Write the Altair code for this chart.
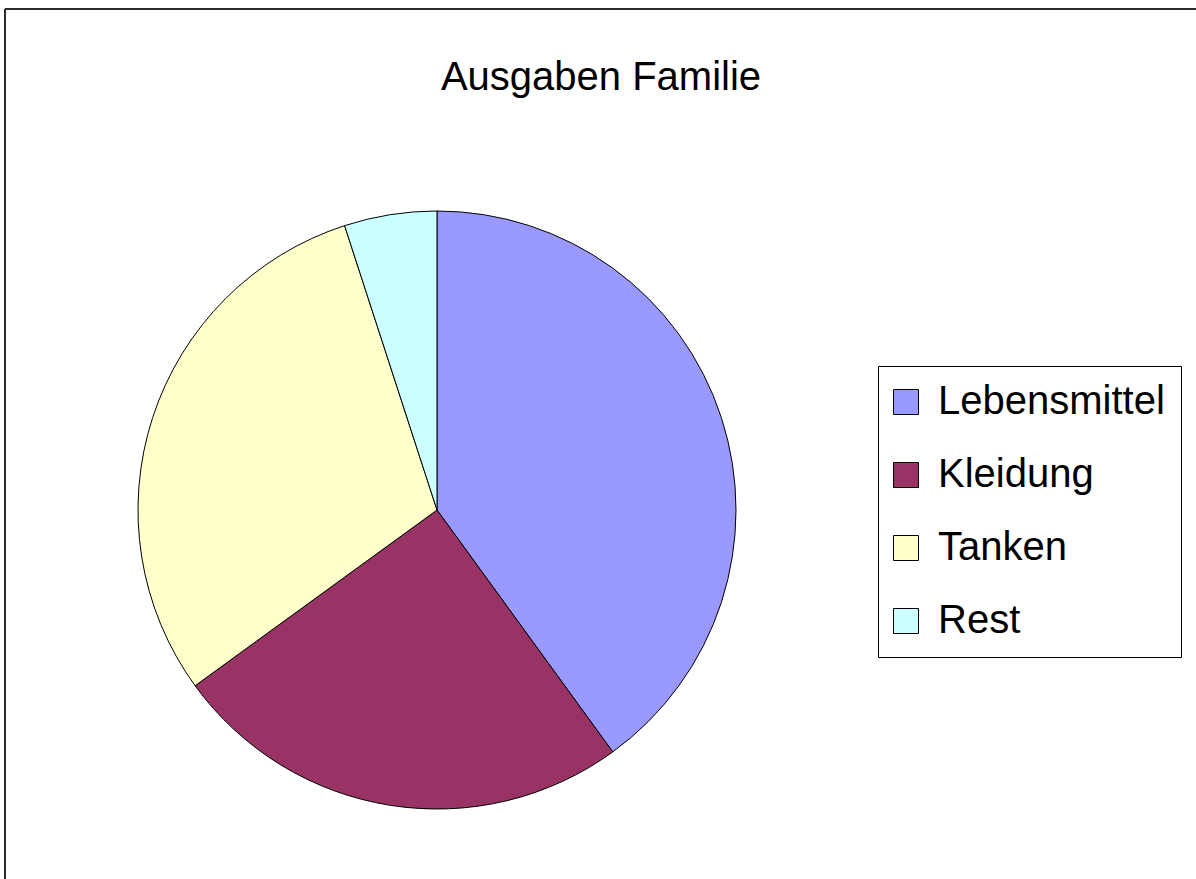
import altair as alt
import pandas as pd

categories = ["Lebensmittel", "Kleidung", "Tanken", "Rest"]
values = [40, 25, 30, 5]
colors = ["#9999FF", "#993366", "#FFFFCC", "#CCFFFF"]
title_text = "Ausgaben Familie"

df = pd.DataFrame({"Kategorie": categories, "Wert": values, "idx": list(range(len(categories)))})

W, H = 1196, 879
FONT = "Liberation Sans"

pie = alt.Chart(df).mark_arc(stroke="black", strokeWidth=1, radius=299).encode(
    theta=alt.Theta("Wert:Q", stack=True),
    order=alt.Order("idx:Q"),
    color=alt.Color(
        "Kategorie:N",
        scale=alt.Scale(domain=categories, range=colors),
        sort=categories,
        legend=alt.Legend(
            title=None,
            orient="none",
            legendX=878,
            legendY=366,
            strokeColor="black",
            fillColor="white",
            padding=16,
            symbolType="square",
            symbolSize=625,
            symbolOffset=-8,
            symbolStrokeColor="black",
            symbolStrokeWidth=1,
            symbolOpacity=1,
            labelFont=FONT,
            labelFontSize=40,
            labelColor="black",
            labelOffset=12,
            rowPadding=33,
            labelLimit=400,
        ),
    ),
    x=alt.value(437),
    y=alt.value(510),
)

title = alt.Chart(alt.Data(values=[{"t": title_text}])).mark_text(
    font=FONT, fontSize=40, color="black", align="center", baseline="alphabetic"
).encode(text="t:N", x=alt.value(601), y=alt.value(90))

frame_top = alt.Chart(alt.Data(values=[{}])).mark_rule(color="#2b2b2b", strokeWidth=2).encode(
    x=alt.value(5), x2=alt.value(W), y=alt.value(9)
)
frame_left = alt.Chart(alt.Data(values=[{}])).mark_rule(color="#2b2b2b", strokeWidth=2).encode(
    x=alt.value(5), y=alt.value(9), y2=alt.value(H)
)

chart = alt.layer(pie, title, frame_top, frame_left).properties(
    width=W, height=H, autosize="none", padding=0, background="white"
).configure_view(stroke=None)

chart.save("out.html", embed_options={"renderer": "svg", "actions": False})
